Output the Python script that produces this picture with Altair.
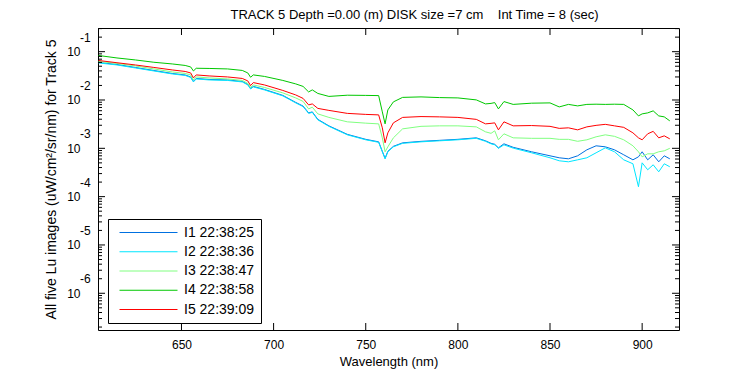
import altair as alt
import pandas as pd

# ---------------- data ----------------
wavelength = [605, 615, 625, 635, 645, 652, 655, 656.5, 658, 665, 675, 683, 686, 687.5, 689,
              695, 705, 712, 716, 719, 721, 724, 730, 740, 750, 757, 759, 760.5, 762, 765,
              770, 780, 790, 800, 810, 815, 818, 820, 822, 825, 830, 840, 850, 855, 860,
              865, 870, 875, 880, 885, 890, 895, 898, 900, 903, 906, 909, 912, 915]

# log10 of Lu (uW/cm^2/sr/nm)
log10_I1 = [-1.223, -1.265, -1.327, -1.389, -1.451, -1.482, -1.523, -1.616, -1.554, -1.575,
            -1.585, -1.616, -1.678, -1.761, -1.719, -1.781, -1.905, -2.050, -2.126, -2.267,
            -2.246, -2.401, -2.535, -2.711, -2.814, -2.866, -3.062, -3.207, -3.062, -2.959,
            -2.887, -2.856, -2.835, -2.814, -2.783, -2.845, -2.897, -2.917, -2.990, -2.907,
            -2.979, -3.072, -3.155, -3.196, -3.217, -3.155, -3.031, -2.948, -2.969, -3.031,
            -3.134, -3.238, -3.176, -3.072, -3.238, -3.134, -3.279, -3.155, -3.217]
log10_I2 = [-1.233, -1.275, -1.337, -1.399, -1.461, -1.492, -1.533, -1.626, -1.564, -1.585,
            -1.595, -1.626, -1.688, -1.771, -1.729, -1.791, -1.915, -2.060, -2.136, -2.277,
            -2.256, -2.411, -2.545, -2.721, -2.824, -2.876, -3.072, -3.217, -3.072, -2.969,
            -2.897, -2.866, -2.845, -2.824, -2.793, -2.855, -2.907, -2.928, -3.000, -2.928,
            -2.996, -3.093, -3.196, -3.258, -3.279, -3.238, -3.196, -3.093, -2.990, -3.072,
            -3.238, -3.320, -3.795, -3.300, -3.444, -3.341, -3.486, -3.320, -3.382]
log10_I3 = [-1.202, -1.244, -1.295, -1.357, -1.419, -1.450, -1.481, -1.585, -1.523, -1.543,
            -1.564, -1.595, -1.657, -1.740, -1.688, -1.740, -1.853, -1.957, -2.029, -2.184,
            -2.149, -2.287, -2.360, -2.452, -2.479, -2.494, -2.783, -3.072, -2.969, -2.783,
            -2.597, -2.545, -2.535, -2.535, -2.556, -2.659, -2.690, -2.638, -2.824, -2.700,
            -2.783, -2.793, -2.793, -2.814, -2.814, -2.855, -2.824, -2.762, -2.721, -2.752,
            -2.824, -2.948, -3.072, -3.176, -3.114, -3.114, -3.072, -3.052, -3.000]
log10_I4 = [-1.079, -1.130, -1.171, -1.219, -1.254, -1.285, -1.316, -1.399, -1.343, -1.347,
            -1.357, -1.388, -1.440, -1.529, -1.481, -1.512, -1.595, -1.667, -1.719, -1.833,
            -1.791, -1.864, -1.926, -1.901, -1.905, -1.909, -2.246, -2.494, -2.205, -2.039,
            -1.946, -1.936, -1.950, -1.957, -1.998, -2.081, -2.070, -2.054, -2.184, -2.033,
            -2.091, -2.066, -2.060, -2.143, -2.091, -2.122, -2.091, -2.087, -2.091, -2.087,
            -2.091, -2.205, -2.329, -2.287, -2.267, -2.225, -2.329, -2.349, -2.432]
log10_I5 = [-1.182, -1.229, -1.275, -1.326, -1.378, -1.409, -1.440, -1.543, -1.481, -1.502,
            -1.523, -1.554, -1.605, -1.702, -1.640, -1.688, -1.802, -1.895, -1.967, -2.101,
            -2.081, -2.174, -2.215, -2.277, -2.298, -2.308, -2.576, -2.886, -2.680, -2.473,
            -2.360, -2.343, -2.349, -2.360, -2.401, -2.494, -2.483, -2.473, -2.618, -2.452,
            -2.535, -2.529, -2.545, -2.587, -2.576, -2.618, -2.556, -2.525, -2.504, -2.535,
            -2.566, -2.680, -2.783, -2.824, -2.700, -2.649, -2.783, -2.742, -2.804]

series_names = ["I1 22:38:25", "I2 22:38:36", "I3 22:38:47", "I4 22:38:58", "I5 22:39:09"]
series_colors = ["#0070e0", "#00e6ff", "#80ff80", "#00c800", "#ff0000"]

x_tick_values = [650, 700, 750, 800, 850, 900]
y_major_exponents = [-6, -5, -4, -3, -2, -1]
x_domain = [604.7, 920.0]
y_domain_exp = [-6.76, -0.51]

title_text = "TRACK 5 Depth =0.00 (m) DISK size =7 cm\u00a0\u00a0\u00a0\u00a0Int Time = 8 (sec)"
x_title = "Wavelength (nm)"
y_title = "All five Lu images (uW/cm\u00b2/sr/nm) for Track 5"

# ---------------- tables ----------------
rows = []
for name, vals in zip(series_names, [log10_I1, log10_I2, log10_I3, log10_I4, log10_I5]):
    for w, v in zip(wavelength, vals):
        rows.append({"wl": w, "Lu": 10.0 ** v, "series": name})
df = pd.DataFrame(rows)

major_df = pd.DataFrame({"Lu": [10.0 ** e for e in y_major_exponents],
                         "e": [str(e) for e in y_major_exponents]})
minor_vals = []
for e in range(-7, 0):
    for k in range(2, 10):
        val = k * 10.0 ** e
        if 10 ** y_domain_exp[0] <= val <= 10 ** y_domain_exp[1]:
            minor_vals.append(val)
minor_df = pd.DataFrame({"Lu": minor_vals})
xt_df = pd.DataFrame({"wl": x_tick_values})

W, H = 581, 302
FONT = "Liberation Sans"

xs = alt.Scale(domain=x_domain, nice=False, zero=False)
ys = alt.Scale(type="log", domain=[10 ** y_domain_exp[0], 10 ** y_domain_exp[1]], nice=False)

x_axis = alt.Axis(values=x_tick_values, ticks=False, tickSize=0, domain=False, grid=False,
                  labelPadding=9, labelFontSize=12, labelFont=FONT, labelColor="black",
                  title=x_title, titleFontSize=13, titleFont=FONT, titleFontWeight="normal",
                  titleColor="black", titleX=W / 2, titleY=31, titleBaseline="middle")
y_axis = alt.Axis(values=[10.0 ** e for e in y_major_exponents], labelExpr="'10'",
                  ticks=False, tickSize=0, domain=False, grid=False,
                  labelPadding=18, labelFontSize=12, labelFont=FONT, labelColor="black",
                  title=y_title, titleFontSize=14, titleFont=FONT, titleFontWeight="normal",
                  titleColor="black", titleX=-47, titleY=H / 2, titleAngle=-90,
                  titleAlign="center", titleBaseline="middle")

X = alt.X("wl:Q", scale=xs, axis=x_axis)
Y = alt.Y("Lu:Q", scale=ys, axis=y_axis)

lines = alt.Chart(df).mark_line(strokeWidth=1, clip=True).encode(
    x=X, y=Y,
    color=alt.Color("series:N",
                    scale=alt.Scale(domain=series_names, range=series_colors),
                    legend=alt.Legend(title=None, orient="none", legendX=10, legendY=191,
                                      symbolType="stroke", symbolSize=3364, symbolStrokeWidth=1,
                                      clipHeight=15, rowPadding=4.25,
                                      labelFontSize=14, labelFont=FONT, labelColor="black",
                                      labelOffset=6, symbolOffset=5, padding=6,
                                      strokeColor="black", fillColor="white")),
)

exps = alt.Chart(major_df).mark_text(align="left", baseline="middle", dy=-14, fontSize=12,
                                     font=FONT, color="black").encode(
    y=Y, x=alt.value(-18), text="e:N")

def yrule(data, x1, x2):
    return alt.Chart(data).mark_rule(color="black", strokeWidth=1).encode(
        y=Y, x=alt.value(x1), x2=alt.value(x2))

def xrule(y1, y2):
    return alt.Chart(xt_df).mark_rule(color="black", strokeWidth=1).encode(
        x=X, y=alt.value(y1), y2=alt.value(y2))

chart = alt.layer(
    lines,
    yrule(major_df, 0, 7), yrule(major_df, W - 7, W),
    yrule(minor_df, 0, 4), yrule(minor_df, W - 4, W),
    xrule(H - 7, H), xrule(0, 7),
    exps,
).properties(
    width=W, height=H,
    title=alt.TitleParams(title_text, fontSize=13, font=FONT, fontWeight="normal",
                          color="black", anchor="middle", offset=6, dx=26),
    autosize=alt.AutoSizeParams(type="none"),
    padding={"left": 90, "top": 20, "right": 50, "bottom": 45},
    background="white",
).configure_view(stroke="black", strokeWidth=1)

chart.save("out.html", embed_options={"renderer": "svg", "actions": False})
